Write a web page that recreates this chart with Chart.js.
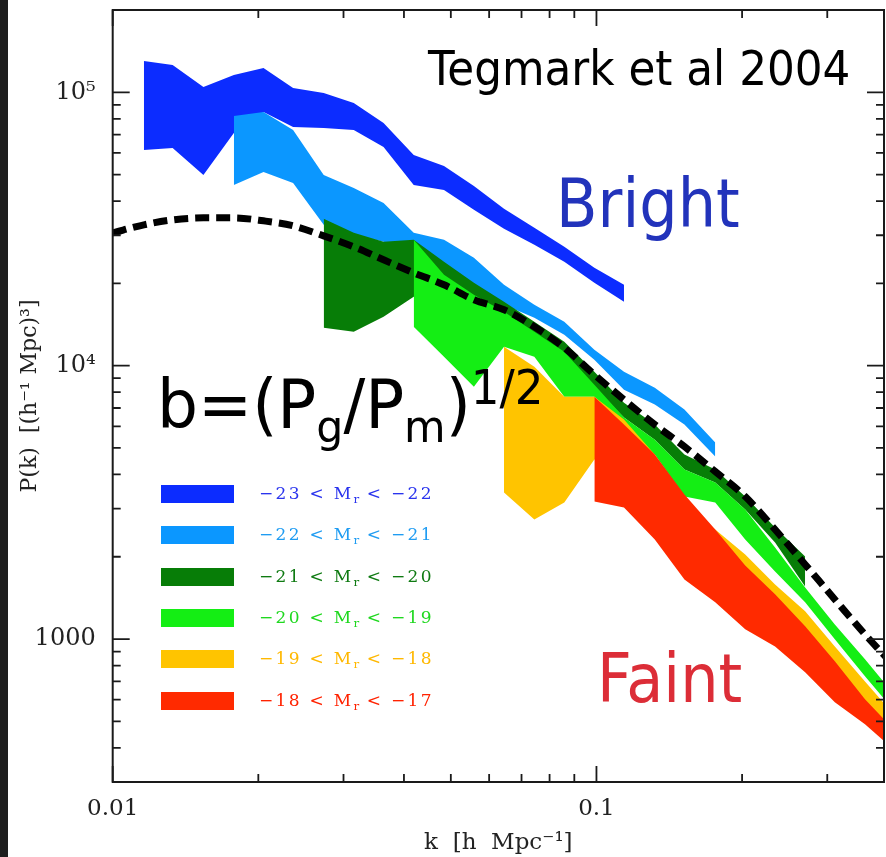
<!DOCTYPE html>
<html>
<head>
<meta charset="utf-8">
<script src="https://cdn.jsdelivr.net/npm/chart.js@4.4.1/dist/chart.umd.min.js"></script>
<style>
  html, body { margin: 0; padding: 0; background: #fff; }
  #wrap { position: relative; width: 886px; height: 857px; overflow: hidden; background: #fff; }
  #edge { position: absolute; left: 0; top: 0; width: 8px; height: 857px; background: #1e1e1e; }
  .note { position: absolute; white-space: nowrap; font-family: "DejaVu Sans"; transform-origin: left top; line-height: 1; }
  .note sub { font-size: 0.66em; }
  .note sup { font-size: 0.7em; }
  #legend { position: absolute; left: 161px; top: 485px; }
  .row { position: absolute; left: 0; height: 18px; width: 300px; }
  .sw { position: absolute; left: 0; top: 0; width: 73px; height: 18px; }
  .lab { position: absolute; left: 98px; top: -2px; font: 17px "DejaVu Serif"; letter-spacing: 2.3px; white-space: nowrap; }
  .lab sub { font-size: 0.7em; letter-spacing: 0; }
</style>
</head>
<body>
<div id="wrap">
  <canvas id="myChart" width="886" height="857"></canvas>
  <div id="edge"></div>
  <div id="legend"></div>
  <div class="note" style="left:428px; top:44px; font-size:46px; transform:scale(0.95,1.05);">Tegmark et al 2004</div>
  <div class="note" style="left:556px; top:170px; font-size:68px; color:#2233bb; transform:scaleX(0.89);">Bright</div>
  <div class="note" style="left:597px; top:645px; font-size:68px; color:#dc2d37; transform:scaleX(0.89);">Faint</div>
  <div class="note" style="left:157px; top:364px; font-size:68px; transform:scaleX(0.95);">b=(P<sub>g</sub>/P<sub>m</sub>)<sup>1/2</sup></div>
</div>
<script>
// k bins shared by all bands (h/Mpc)
const kBins = [0.0116, 0.0133, 0.0154, 0.0178, 0.0205, 0.0236, 0.0273, 0.0315, 0.0363, 0.0419,
  0.0484, 0.0558, 0.0644, 0.0744, 0.0858, 0.099, 0.114, 0.132, 0.152, 0.176,
  0.203, 0.234, 0.270, 0.311, 0.359, 0.415];

// magnitude bins
const magBright = [-23, -22, -21, -20, -19, -18];
const magFaint = [-22, -21, -20, -19, -18, -17];
const bandColors = ['#0c2cff', '#0b97ff', '#077d07', '#14ee14', '#ffc400', '#ff2a00'];
const labelColors = ['#2a34ee', '#1f9cf2', '#0f7a12', '#1fd81f', '#ffb800', '#ff2200'];

// first k bin of each band
const bandStart = [0, 3, 6, 9, 12, 15];

// upper / lower edges of each band, P(k) in (Mpc/h)^3
const blueUp = [130100, 125800, 104500, 115700, 122700, 103700, 99400, 91400, 77230, 59000, 53790, 45460, 37470, 31930, 27220, 22800, 19770];
const blueLo = [61530, 62580, 49870, 71010, 84720, 74680, 74050, 72800, 63110, 45840, 43950, 37150, 31660, 27680, 23990, 20100, 17130];
const lblueUp = [81920, 84720, 72800, 49870, 44700, 39400, 30610, 28860, 24810, 19770, 16710, 14480, 11440, 9508, 8310, 6907, 5233];
const lblueLo = [45840, 51150, 46630, 32740, 30100, 28380, 25440, 22990, 19280, 16710, 14980, 12980, 10520, 8171, 7204, 6087, 4650];
const dgreenUp = [34440, 30610, 28380, 28860, 23980, 20100, 17130, 14480, 12240, 9508, 7323, 6087, 4729, 4169, 3322, 2559, 2005];
const dgreenLo = [13760, 13310, 15100, 17870, 17420, 16020, 14480, 12450, 10520, 8310, 6457, 5364, 4169, 3736, 2977, 2256, 1557];
const lgreenUp = [28860, 21500, 18170, 15750, 13310, 11250, 8522, 6457, 5364, 4169, 3736, 2977, 2163, 1545, 1131, 843, 618];
const lgreenLo = [13880, 10790, 8381, 11730, 10790, 7703, 7703, 6087, 4729, 3322, 3158, 2314, 1767, 1362, 998, 731, 540];
const yellowUp = [11730, 9916, 7703, 7703, 6349, 4729, 3105, 2516, 2039, 1584, 1263, 940, 700, 522];
const yellowLo = [3436, 2737, 3158, 4533, 4169, 3239, 2516, 1955, 1519, 1231, 998, 788, 592, 441];
const redUp = [7703, 6087, 4729, 3379, 2516, 1859, 1457, 1113, 829, 602, 460];
const redLo = [3185, 3028, 2314, 1653, 1362, 1085, 940, 756, 587, 488, 389];

// dark matter model curve (dashed)
const modelK = [0.01].concat(kBins);
const modelP = [30610, 32740, 34150, 34730, 34730, 33870, 32470, 29850, 27220, 24390, 21870, 19770,
  17420, 16020, 13880, 11630, 9271, 7511, 6087, 5058, 4100, 3322, 2516, 1875, 1396, 1040, 788];

const uppers = [blueUp, lblueUp, dgreenUp, lgreenUp, yellowUp, redUp];
const lowers = [blueLo, lblueLo, dgreenLo, lgreenLo, yellowLo, redLo];

function minus(n) { return n < 0 ? '\u2212' + Math.abs(n) : String(n); }
function pts(k0, vals) { return vals.map((v, j) => ({x: kBins[k0 + j], y: v})); }

const datasets = [{
  label: 'model',
  data: modelK.map((k, j) => ({x: k, y: modelP[j]})),
  borderColor: '#000', borderWidth: 7, borderDash: [14, 7], borderCapStyle: 'butt',
  pointRadius: 0, fill: false, cubicInterpolationMode: 'monotone', order: -1
}];
uppers.forEach((up, b) => {
  const lab = minus(magBright[b]) + ' < Mr < ' + minus(magFaint[b]);
  datasets.push({
    label: lab, data: pts(bandStart[b], up),
    borderWidth: 0, pointRadius: 0, backgroundColor: bandColors[b],
    fill: '+1', order: 10 - b
  });
  datasets.push({
    label: lab + ' lo', data: pts(bandStart[b], lowers[b]),
    borderWidth: 0, pointRadius: 0, fill: false, order: 10 - b
  });
});

// legend drawn as html rows
const leg = document.getElementById('legend');
magBright.forEach((m, b) => {
  const row = document.createElement('div');
  row.className = 'row';
  row.style.top = (b * 41.3) + 'px';
  row.innerHTML = '<div class="sw" style="background:' + bandColors[b] + '"></div>' +
    '<div class="lab" style="color:' + labelColors[b] + '">' + minus(m) + ' &lt; M<sub>r</sub> &lt; ' + minus(magFaint[b]) + '</div>';
  leg.appendChild(row);
});

function whole(v) {
  const m = v / Math.pow(10, Math.floor(Math.log10(v) + 1e-9));
  return Math.abs(m - Math.round(m)) < 1e-6;
}
function decade(v) { return Math.abs(Math.log10(v) - Math.round(Math.log10(v))) < 1e-6; }

const frameTicks = {
  id: 'frameTicks',
  afterDraw(chart) {
    const {ctx, chartArea: a, scales} = chart;
    ctx.save();
    ctx.strokeStyle = '#1a1a1a';
    ctx.lineWidth = 2;
    ctx.strokeRect(a.left, a.top, a.right - a.left, a.bottom - a.top);
    ctx.lineWidth = 1.8;
    ctx.beginPath();
    scales.x.ticks.forEach(t => {
      if (!whole(t.value)) return;
      const p = scales.x.getPixelForValue(t.value), len = decade(t.value) ? 16 : 8;
      ctx.moveTo(p, a.bottom); ctx.lineTo(p, a.bottom - len);
      ctx.moveTo(p, a.top); ctx.lineTo(p, a.top + len);
    });
    scales.y.ticks.forEach(t => {
      if (!whole(t.value)) return;
      const p = scales.y.getPixelForValue(t.value), len = decade(t.value) ? 17 : 8;
      ctx.moveTo(a.left, p); ctx.lineTo(a.left + len, p);
      ctx.moveTo(a.right, p); ctx.lineTo(a.right - len, p);
    });
    ctx.stroke();
    ctx.restore();
  }
};

Chart.defaults.font.family = 'DejaVu Serif';
Chart.defaults.color = '#222';

const ctx = document.getElementById('myChart').getContext('2d');
const chart = new Chart(ctx, {
  type: 'line',
  data: {datasets: datasets},
  plugins: [frameTicks],
  options: {
    responsive: false,
    animation: false,
    layout: {padding: {top: 10, right: 2, left: 0, bottom: 0}},
    plugins: {legend: {display: false}, tooltip: {enabled: false}},
    scales: {
      x: {
        type: 'logarithmic', min: 0.01, max: 0.393,
        grid: {display: false}, border: {display: false},
        afterFit: s => { s.height = 75; s.paddingLeft = 0; s.paddingRight = 0; },
        ticks: {
          autoSkip: false, maxRotation: 0, padding: 5, font: {size: 23},
          callback: v => (decade(v) ? (v >= 0.1 ? '0.1' : '0.01') : '')
        },
        title: {display: true, text: 'k  [h  Mpc\u207B\u00B9]', font: {size: 23}, padding: {top: 0, bottom: 0}}
      },
      y: {
        type: 'logarithmic', min: 300, max: 200000,
        grid: {display: false}, border: {display: false},
        afterFit: s => { s.width = 112.7; s.paddingTop = 0; s.paddingBottom = 0; },
        ticks: {
          autoSkip: false, padding: 9, font: {size: 24},
          callback: v => {
            if (!decade(v)) return '';
            const e = Math.round(Math.log10(v));
            if (e === 3) return '1000';
            if (e === 4) return '10\u2074';
            if (e === 5) return '10\u2075';
            return '';
          }
        },
        title: {display: true, text: 'P(k)  [(h\u207B\u00B9 Mpc)\u00B3]', font: {size: 22}, padding: {top: 17, bottom: 0}}
      }
    }
  }
});
</script>
</body>
</html>
